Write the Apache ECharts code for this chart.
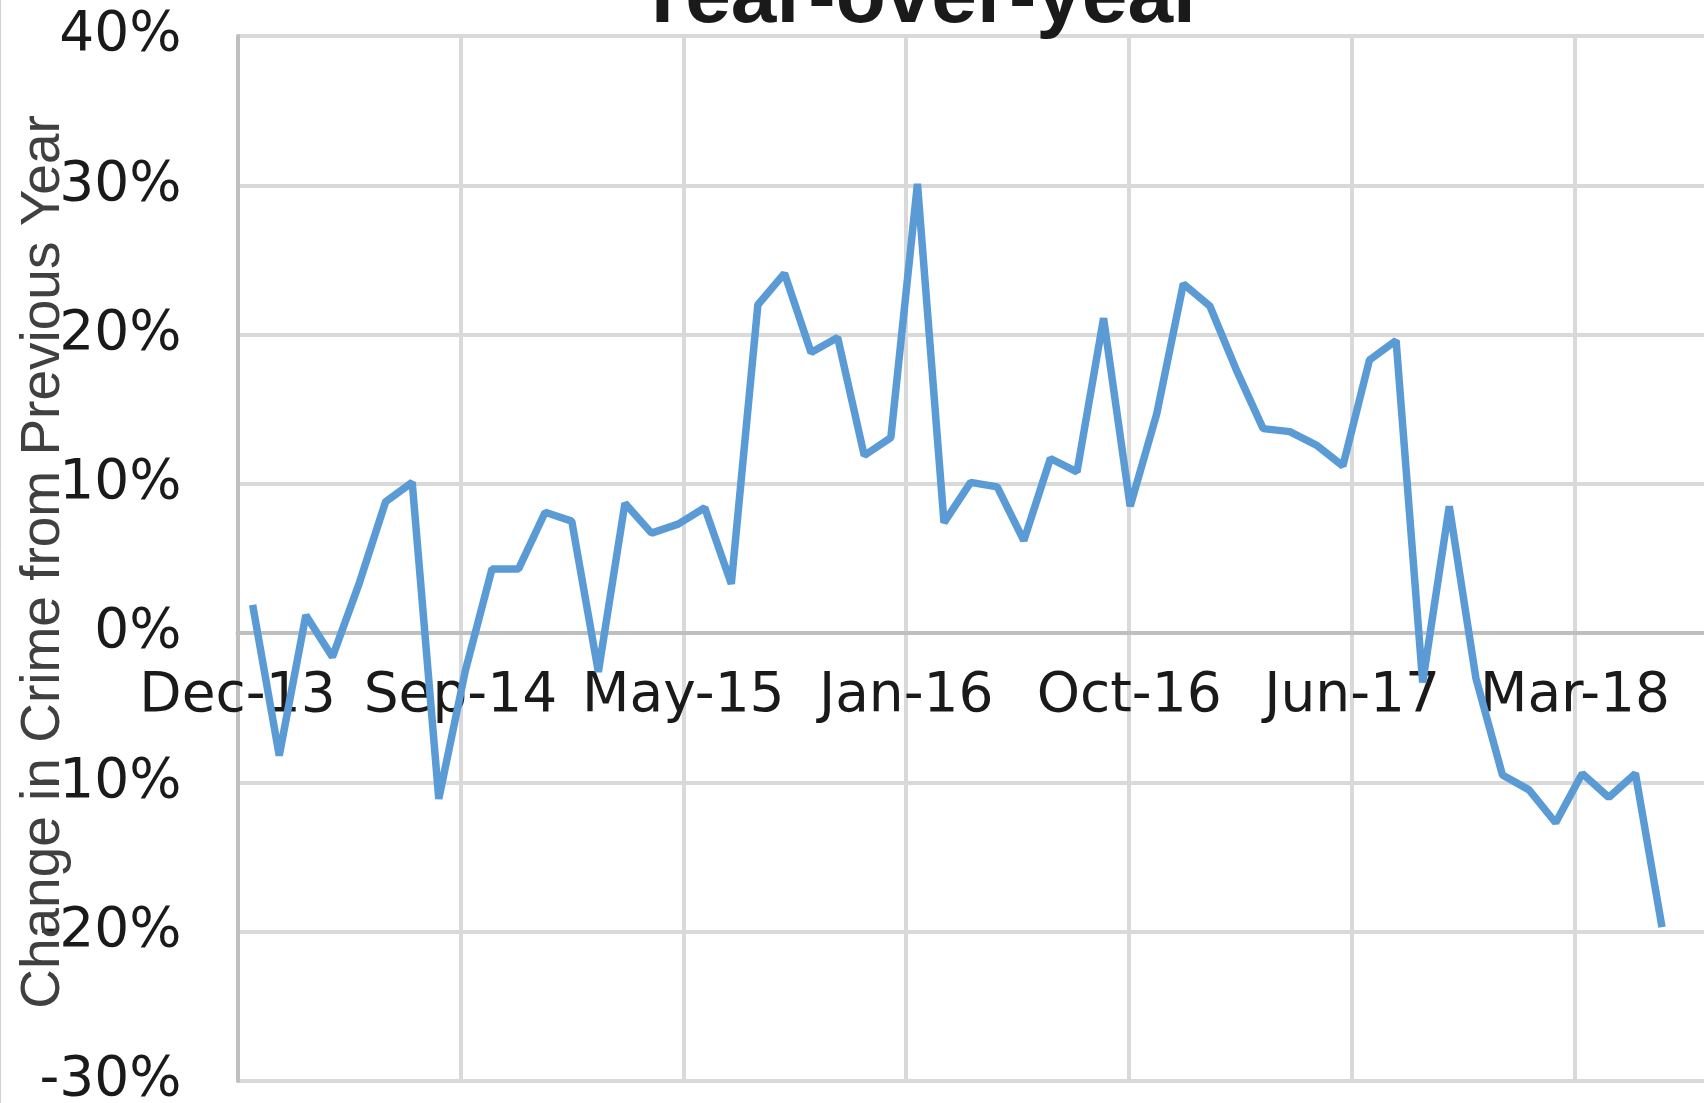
<!DOCTYPE html>
<html>
<head>
<meta charset="utf-8">
<title>Year-over-year</title>
<script src="https://cdn.jsdelivr.net/npm/echarts@6/dist/echarts.min.js"></script>
<style>
    html, body { margin: 0; padding: 0; background: #fff; }
    #chart { width: 1704px; height: 1103px; }
</style>
</head>
<body>
<div id="chart"></div>
<script>
// monthly year-over-year change in crime (%)
var months = [
    'Jan-14', 'Feb-14', 'Mar-14', 'Apr-14', 'May-14', 'Jun-14', 'Jul-14', 'Aug-14', 'Sep-14', 'Oct-14', 'Nov-14', 'Dec-14',
    'Jan-15', 'Feb-15', 'Mar-15', 'Apr-15', 'May-15', 'Jun-15', 'Jul-15', 'Aug-15', 'Sep-15', 'Oct-15', 'Nov-15', 'Dec-15',
    'Jan-16', 'Feb-16', 'Mar-16', 'Apr-16', 'May-16', 'Jun-16', 'Jul-16', 'Aug-16', 'Sep-16', 'Oct-16', 'Nov-16', 'Dec-16',
    'Jan-17', 'Feb-17', 'Mar-17', 'Apr-17', 'May-17', 'Jun-17', 'Jul-17', 'Aug-17', 'Sep-17', 'Oct-17', 'Nov-17', 'Dec-17',
    'Jan-18', 'Feb-18', 'Mar-18', 'Apr-18', 'May-18', 'Jun-18'
];
var changePct = [
    1.9, -8.2, 1.2, -1.6, 3.3, 8.8, 10.1, -11.1, -2.5, 4.3, 4.3, 8.1,
    7.5, -2.6, 8.7, 6.7, 7.3, 8.4, 3.3, 22.0, 24.1, 18.8, 19.8, 11.9,
    13.1, 30.1, 7.4, 10.1, 9.8, 6.2, 11.7, 10.8, 21.1, 8.5, 14.7, 23.4,
    21.9, 17.6, 13.7, 13.5, 12.6, 11.2, 18.3, 19.6, -3.3, 8.5, -3.0, -9.5,
    -10.5, -12.7, -9.4, -11.0, -9.4, -19.7
];
var xTickLabels = ['Dec-13', 'Sep-14', 'May-15', 'Jan-16', 'Oct-16', 'Jun-17', 'Mar-18'];

// date axis: one unit = one month, a labelled gridline every ~8.4 months
var MONTHS_PER_TICK = 8.383;
var FIRST_OFFSET = 0.57;
var AXIS_MAX = 55.3;

var seriesData = changePct.map(function (v, i) {
    return [FIRST_OFFSET + i, v, months[i]];
});

var chart = echarts.init(document.getElementById('chart'));

var option = {
    animation: false,
    backgroundColor: '#fff',
    title: {
        text: 'Year-over-year',
        left: 915,
        textAlign: 'center',
        top: -47,
        textStyle: {
            fontFamily: 'Liberation Sans',
            fontSize: 82,
            fontWeight: 'bold',
            color: '#1a1a1a'
        }
    },
    grid: {
        left: 237.5,
        right: -4,
        top: 36,
        bottom: 22,
        outerBoundsMode: 'none'
    },
    xAxis: {
        type: 'value',
        min: 0,
        max: AXIS_MAX,
        interval: MONTHS_PER_TICK,
        offset: -448,
        axisLine: { onZero: false, lineStyle: { color: '#bfbfbf', width: 4 } },
        axisTick: { show: false },
        splitLine: { show: true, lineStyle: { color: '#d9d9d9', width: 4 } },
        axisLabel: {
            margin: 36,
            fontFamily: 'DejaVu Sans',
            fontSize: 55,
            color: '#1a1a1a',
            showMaxLabel: false,
            formatter: function (v) {
                var k = Math.round(v / MONTHS_PER_TICK);
                if (Math.abs(v - k * MONTHS_PER_TICK) > 0.01) return '';
                return xTickLabels[k] || '';
            }
        }
    },
    yAxis: {
        type: 'value',
        min: -30,
        max: 40,
        interval: 10,
        axisLine: { show: true, lineStyle: { color: '#bfbfbf', width: 4 } },
        axisTick: { show: false },
        splitLine: { show: true, lineStyle: { color: '#d9d9d9', width: 4 } },
        axisLabel: {
            margin: 56,
            fontFamily: 'DejaVu Sans',
            fontSize: 55,
            color: '#1a1a1a',
            formatter: '{value}%'
        }
    },
    graphic: [{
        type: 'line',
        shape: { x1: 0.5, y1: 0, x2: 0.5, y2: 1103 },
        style: { stroke: '#d0d0d0', lineWidth: 1 }
    }, {
        // y axis title, drawn over the tick labels as in the original
        type: 'text',
        x: 44,
        y: 562,
        rotation: Math.PI / 2,
        z: 10,
        style: {
            text: 'Change in Crime from Previous Year',
            font: '55px "Liberation Sans"',
            fill: '#404040',
            align: 'center',
            verticalAlign: 'middle'
        }
    }],
    series: [{
        type: 'line',
        data: seriesData,
        showSymbol: false,
        symbol: 'none',
        lineStyle: { color: '#5b9bd5', width: 7.5 },
        z: 3
    }]
};

chart.setOption(option);
</script>
</body>
</html>
